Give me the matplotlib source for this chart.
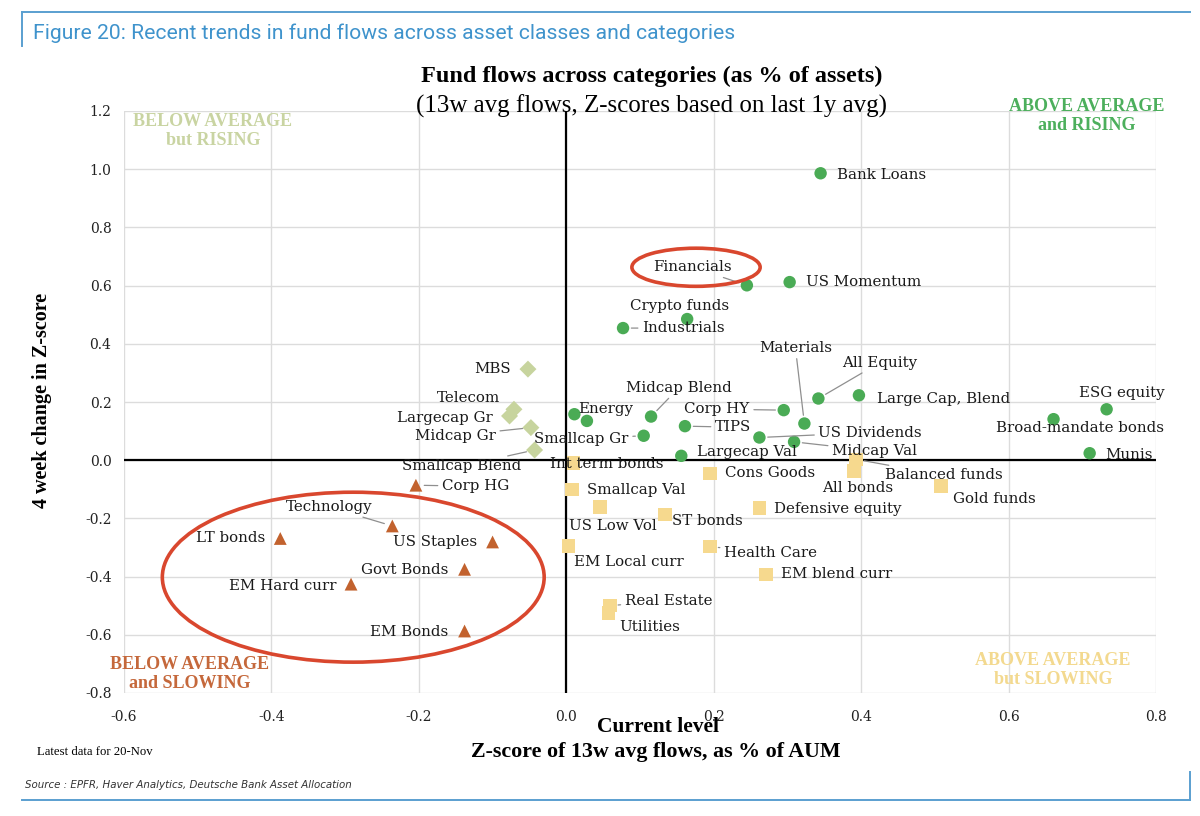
import matplotlib
matplotlib.use("Agg")
import matplotlib.pyplot as plt
from matplotlib.patches import Ellipse
from matplotlib.lines import Line2D

# ---------------- data ----------------
green_names = ["Bank Loans", "US Momentum", "Financials", "Crypto funds", "Industrials",
               "Materials", "All Equity", "Large Cap, Blend", "Midcap Blend", "Energy", "",
               "Corp HY", "TIPS", "US Dividends", "Midcap Val", "Smallcap Gr", "Largecap Val",
               "ESG equity", "Broad-mandate bonds", "Munis"]
green_x = [0.345, 0.303, 0.245, 0.164, 0.077, 0.323, 0.342, 0.397, 0.115, 0.011, 0.028,
           0.295, 0.161, 0.262, 0.309, 0.105, 0.156, 0.733, 0.661, 0.710]
green_y = [0.986, 0.612, 0.601, 0.485, 0.454, 0.126, 0.212, 0.223, 0.150, 0.158, 0.135,
           0.172, 0.117, 0.078, 0.063, 0.084, 0.015, 0.175, 0.141, 0.024]

yellow_names = ["Balanced funds", "All bonds", "Cons Goods", "Int term bonds", "Smallcap Val",
                "US Low Vol", "ST bonds", "Defensive equity", "Gold funds", "Health Care",
                "EM Local curr", "EM blend curr", "Real Estate", "Utilities"]
yellow_x = [0.393, 0.390, 0.195, 0.010, 0.008, 0.046, 0.134, 0.262, 0.508, 0.195,
            0.003, 0.271, 0.059, 0.057]
yellow_y = [0.003, -0.037, -0.045, -0.010, -0.100, -0.160, -0.186, -0.165, -0.088, -0.297,
            -0.295, -0.392, -0.500, -0.525]

olive_names = ["MBS", "Telecom", "Largecap Gr", "Midcap Gr", "Smallcap Blend"]
olive_x = [-0.052, -0.071, -0.077, -0.048, -0.043]
olive_y = [0.313, 0.175, 0.152, 0.112, 0.035]

orange_names = ["Corp HG", "Technology", "LT bonds", "US Staples", "Govt Bonds",
                "EM Hard curr", "EM Bonds"]
orange_x = [-0.204, -0.236, -0.388, -0.100, -0.138, -0.292, -0.138]
orange_y = [-0.086, -0.226, -0.269, -0.281, -0.375, -0.426, -0.587]

x_ticks = [-0.6, -0.4, -0.2, 0.0, 0.2, 0.4, 0.6, 0.8]
y_ticks = [-0.8, -0.6, -0.4, -0.2, 0.0, 0.2, 0.4, 0.6, 0.8, 1.0, 1.2]

# ---------------- label layout (pixel offsets, ha, leader line) ----------------
layout = {
    "Bank Loans": (16, -2, "left", False),
    "US Momentum": (16, 0, "left", False),
    "Financials": (-15, 18, "right", True),
    "Crypto funds": (-8, 13, "center", False),
    "Industrials": (19, 0, "left", True),
    "Materials": (-9, 76, "center", True),
    "All Equity": (24, 36, "left", True),
    "Large Cap, Blend": (18, -4, "left", False),
    "Midcap Blend": (28, 29, "center", True),
    "Energy": (31, 5, "center", False),
    "Corp HY": (-34, 1, "right", True),
    "TIPS": (30, -1, "left", True),
    "US Dividends": (59, 5, "left", True),
    "Midcap Val": (38, -9, "left", True),
    "Smallcap Gr": (-15, -3, "right", True),
    "Largecap Val": (16, 4, "left", False),
    "ESG equity": (15, 16, "center", False),
    "Broad-mandate bonds": (26, -9, "center", False),
    "Munis": (16, -2, "left", False),
    "Balanced funds": (29, -16, "left", True),
    "All bonds": (4, -17, "center", False),
    "Cons Goods": (15, 0, "left", False),
    "Int term bonds": (33, -1, "center", False),
    "Smallcap Val": (15, -1, "left", False),
    "US Low Vol": (13, -19, "center", False),
    "ST bonds": (7, -7, "left", False),
    "Defensive equity": (15, -1, "left", False),
    "Gold funds": (12, -13, "left", False),
    "Health Care": (14, -6, "left", True),
    "EM Local curr": (6, -16, "left", False),
    "EM blend curr": (15, 0, "left", False),
    "Real Estate": (15, 5, "left", True),
    "Utilities": (11, -14, "left", False),
    "MBS": (-17, 0, "right", False),
    "Telecom": (-45, 11, "center", False),
    "Largecap Gr": (-17, -2, "right", False),
    "Midcap Gr": (-35, -8, "right", True),
    "Smallcap Blend": (-13, -16, "right", True),
    "Corp HG": (26, -1, "left", True),
    "Technology": (-20, 19, "right", True),
    "LT bonds": (-15, 0, "right", False),
    "US Staples": (-15, 0, "right", False),
    "Govt Bonds": (-16, -1, "right", False),
    "EM Hard curr": (-15, -2, "right", False),
    "EM Bonds": (-16, -1, "right", False),
}

W, H = 1200, 816
def fx(px):
    return px / W
def fy(py):
    return 1 - py / H

SERIF = "DejaVu Serif"
TSERIF = "Liberation Serif"

fig = plt.figure(figsize=(12, 8.16), dpi=100)
ax = fig.add_axes([fx(124), fy(693), (1156 - 124) / W, (693 - 111) / H])

ax.set_xlim(-0.6, 0.8)
ax.set_ylim(-0.8, 1.2)
ax.set_xticks(x_ticks)
ax.set_yticks(y_ticks)
ax.set_xticklabels([f"{v:.1f}" for v in x_ticks])
ax.set_yticklabels([f"{v:.1f}" for v in y_ticks])
for s in ax.spines.values():
    s.set_visible(False)
ax.grid(True, color="#dcdcdc", lw=1.0, zorder=0)
ax.set_axisbelow(True)
ax.tick_params(axis="x", length=0, labelsize=10, pad=12)
ax.tick_params(axis="y", length=0, labelsize=10, pad=9)
for lbl in ax.get_xticklabels() + ax.get_yticklabels():
    lbl.set_family(SERIF)
    lbl.set_color("#222222")

ax.axhline(0, color="black", lw=1.6, zorder=1)
ax.axvline(0, color="black", lw=1.6, zorder=1)

groups = [
    (green_names, green_x, green_y, "o", "#4aab55", 80),
    (yellow_names, yellow_x, yellow_y, "s", "#f6d98e", 95),
    (olive_names, olive_x, olive_y, "D", "#c7d49e", 75),
    (orange_names, orange_x, orange_y, "^", "#c2622e", 85),
]

for names, xs, ys, mk, col, size in groups:
    ax.scatter(xs, ys, marker=mk, s=size, color=col, edgecolors="none", zorder=3)
    for n, x, y in zip(names, xs, ys):
        if not n:
            continue
        dx, dy, ha, leader = layout[n]
        kw = {}
        if leader:
            kw["arrowprops"] = dict(arrowstyle="-", color="#8f8f8f", lw=0.9,
                                    shrinkA=1, shrinkB=6)
        ax.annotate(n, xy=(x, y), xytext=(dx, dy), textcoords="offset pixels",
                    ha=ha, va="center", fontsize=10.8, family=SERIF,
                    color="#1a1a1a", zorder=4, annotation_clip=False, **kw)

# highlight ellipses
fin_ellipse = dict(center=(0.176, 0.663), width=0.174, height=0.131)
bl_ellipse = dict(center=(-0.289, -0.402), width=0.518, height=0.584)
for e in (fin_ellipse, bl_ellipse):
    ax.add_patch(Ellipse(e["center"], e["width"], e["height"], fill=False,
                         edgecolor="#d9472e", lw=2.6, zorder=5))

# quadrant labels
quad = [
    ("BELOW AVERAGE\nbut RISING", 213, 131, "#c9d4a2"),
    ("ABOVE AVERAGE\nand RISING", 1087, 116, "#4caf5c"),
    ("BELOW AVERAGE\nand SLOWING", 190, 674, "#c5683b"),
    ("ABOVE AVERAGE\nbut SLOWING", 1053, 670, "#f3d98f"),
]
for txt, px, py, col in quad:
    fig.text(fx(px), fy(py), txt, ha="center", va="center", color=col,
             fontsize=13, fontweight="bold", family=TSERIF, linespacing=1.15)

# titles
fig.text(fx(652), fy(76), "Fund flows across categories (as % of assets)",
         ha="center", va="center", fontsize=17.5, fontweight="bold", family=TSERIF)
fig.text(fx(652), fy(106), "(13w avg flows, Z-scores based on last 1y avg)",
         ha="center", va="center", fontsize=18, family=TSERIF)

fig.text(fx(658), fy(727), "Current level", ha="center", va="center",
         fontsize=15.5, fontweight="bold", family=TSERIF)
fig.text(fx(656), fy(752), "Z-score of 13w avg flows, as % of AUM", ha="center",
         va="center", fontsize=15.8, fontweight="bold", family=TSERIF)
fig.text(fx(42), fy(400), "4 week change in Z-score", ha="center", va="center",
         rotation=90, fontsize=14.5, fontweight="bold", family=TSERIF)

fig.text(fx(37), fy(752), "Latest data for 20-Nov", ha="left", va="center",
         fontsize=9.2, family=TSERIF)
fig.text(fx(25), fy(785), "Source : EPFR, Haver Analytics, Deutsche Bank Asset Allocation",
         ha="left", va="center", fontsize=7.4, style="italic", family="DejaVu Sans",
         color="#333333")

# header
fig.text(fx(33), fy(33), "Figure 20: Recent trends in fund flows across asset classes and categories",
         ha="left", va="center", fontsize=15.2, family="Roboto", color="#3f93cc")

frame_col = "#5a9fd0"
fig.add_artist(Line2D([fx(22), fx(1190)], [fy(12), fy(12)], color=frame_col, lw=1.4))
fig.add_artist(Line2D([fx(22), fx(22)], [fy(12), fy(46)], color=frame_col, lw=1.4))
fig.add_artist(Line2D([fx(22), fx(1190)], [fy(800), fy(800)], color=frame_col, lw=1.4))
fig.add_artist(Line2D([fx(1190), fx(1190)], [fy(772), fy(800)], color=frame_col, lw=1.4))

fig.savefig("out.png", dpi=100, facecolor="white")
